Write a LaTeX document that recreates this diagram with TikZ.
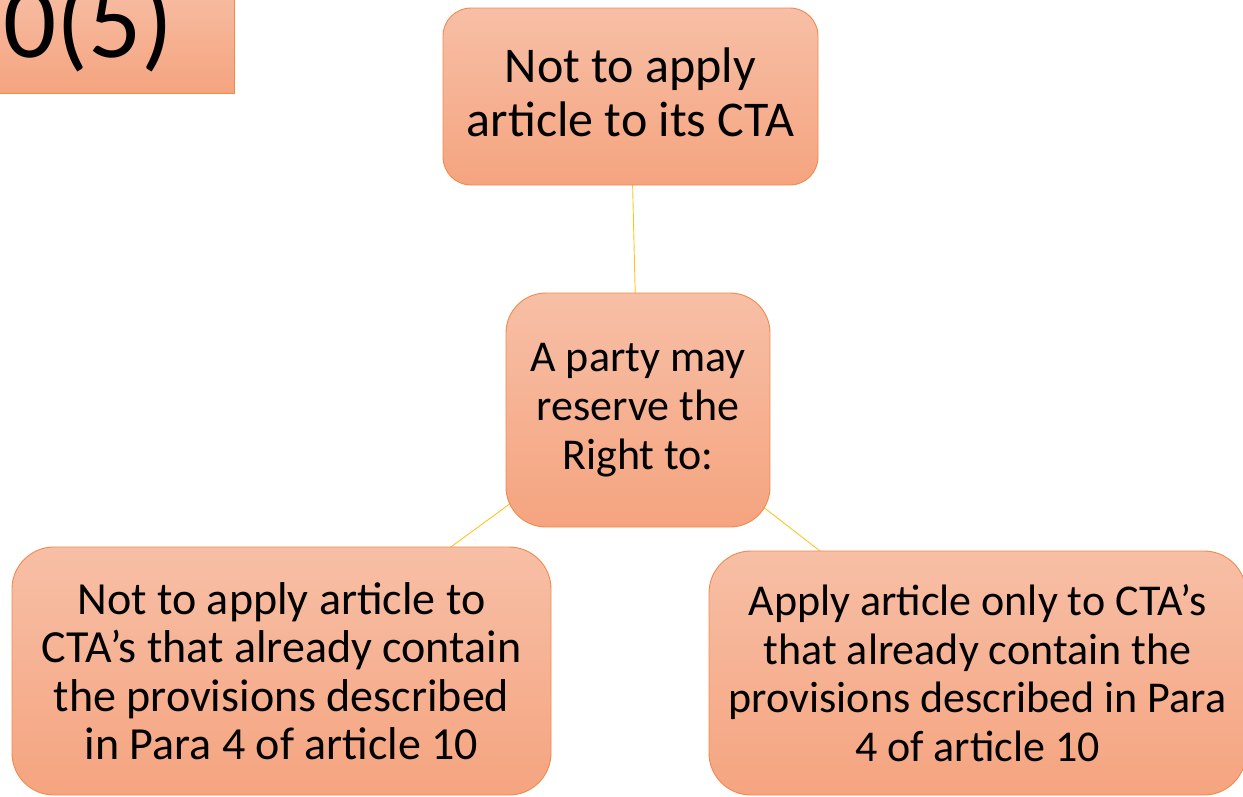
\documentclass[tikz,border=0pt]{standalone}
\usepackage{fontspec}
\setmainfont{Carlito}
\usetikzlibrary{backgrounds}
\definecolor{boxtop}{RGB}{247,191,166}
\definecolor{boxbot}{RGB}{245,164,127}
\definecolor{boxline}{RGB}{240,138,76}
\definecolor{linkc}{RGB}{255,196,30}
\begin{document}
\begin{tikzpicture}[x=1pt,y=-1pt,
  box/.style={draw=boxline, line width=0.9pt, top color=boxtop, bottom color=boxbot,
    rounded corners=#1, inner sep=0pt, align=center, text=black},
  box/.default=40pt,
  link/.style={draw=linkc, line width=0.9pt}]
\useasboundingbox (0,0) rectangle (1243,796);
\clip (0,0) rectangle (1243,796);
% title box (cut by the page edge)
\node[box=0pt, minimum width=260pt, minimum height=115pt] (title) at (104,35.5) {};
\node[anchor=base east, inner sep=0pt, font=\fontsize{105}{105}\selectfont] (titletext) at (174,57) {0(5)};
% boxes
\node[box=28pt, minimum width=375pt, minimum height=177pt, text depth=8pt,
  font=\fontsize{50}{54}\selectfont] (top) at (630.5,96.5) {Not to apply\\article to its CTA};
\node[box=40pt, minimum width=264pt, minimum height=234pt,
  font=\fontsize{44}{49}\selectfont] (mid) at (638,410) {A party may\\reserve the\\Right to:};
\node[box=42pt, minimum width=539pt, minimum height=248pt,
  font=\fontsize{46}{48.5}\selectfont] (left) at (281.5,671)
  {Not to apply article to\\CTA’s that already contain\\the provisions described\\in Para 4 of article 10};
\node[box=42pt, minimum width=537pt, minimum height=244pt,
  font=\fontsize{44}{48.5}\selectfont] (right) at (977.5,673)
  {Apply article only to CTA’s\\that already contain the\\provisions described in Para\\4 of article 10};
% connectors
\begin{scope}[on background layer]
\draw[link] (top.center) -- (mid.center);
\draw[link] (mid.center) -- (left.center);
\draw[link] (mid.center) -- (right.center);
\end{scope}
\end{tikzpicture}
\end{document}
